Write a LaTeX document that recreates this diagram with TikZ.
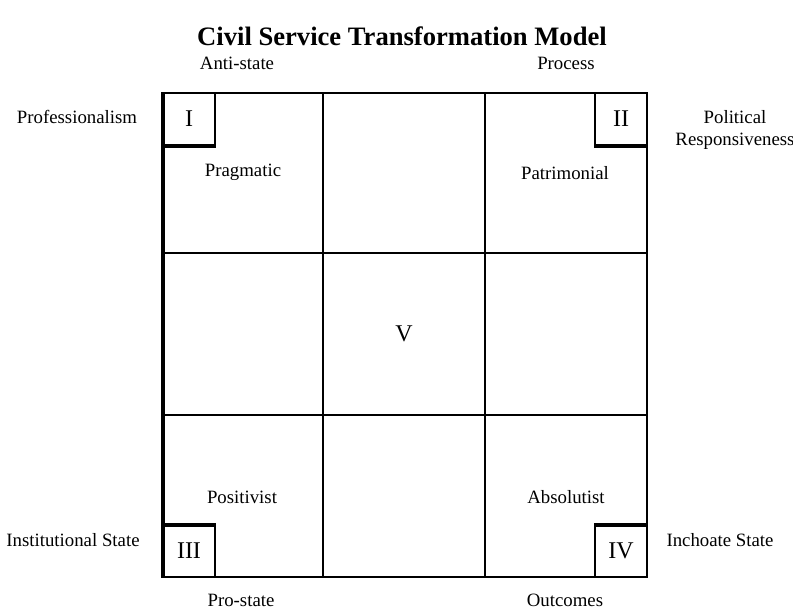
\documentclass[tikz,border=0pt]{standalone}
\usepackage{fontspec}
\setmainfont{Liberation Serif}
\usepackage{tikz}

\begin{document}
\begin{tikzpicture}[x=.5pt,y=-.5pt]
    \useasboundingbox (0,0) rectangle (793,612);
    \tikzset{lab/.style={font=\fontsize{9.4}{11}\selectfont,align=center},
      num/.style={font=\fontsize{12}{14}\selectfont}}
    % grid
    \path (163,93) coordinate (tl); \path (647,577) coordinate (br);
    \draw[line width=1pt] (tl) rectangle (br);
    \draw[line width=1pt] (323,93) -- (323,577) (485,93) -- (485,577);
    \draw[line width=1pt] (163,253) -- (647,253) (163,415) -- (647,415);
    \draw[line width=1.7pt] (163,92) -- (163,578);
    % corner boxes
    \draw[line width=1pt] (215,93) -- (215,146);
    \draw[line width=1.8pt] (163,146) -- (216,146);
    \draw[line width=1pt] (595,93) -- (595,146);
    \draw[line width=1.8pt] (594,146) -- (648,146);
    \draw[line width=1pt] (215,525) -- (215,577);
    \draw[line width=1.8pt] (163,525) -- (216,525);
    \draw[line width=1pt] (595,525) -- (595,577);
    \draw[line width=1.8pt] (594,525) -- (648,525);
    \node[num] (one) at (189,119) {I};
    \node[num] (two) at (621,119) {II};
    \node[num] (three) at (189,551) {III};
    \node[num] (four) at (621,551) {IV};
    \node[num] (five) at (404,334) {V};
    % labels
    \node[font=\fontsize{13.3}{16}\selectfont\bfseries] (title) at (402,36)
      {Civil Service Transformation Model};
    \node[lab] (anti) at (237,63) {Anti-state};
    \node[lab] (proc) at (566,63) {Process};
    \node[lab] (prof) at (77,117) {Professionalism};
    \node[lab] (polit) at (735,130) {Political\\Responsiveness};
    \node[lab] (prag) at (243,172) {Pragmatic};
    \node[lab] (patr) at (565,173) {Patrimonial};
    \node[lab] (posit) at (242,497) {Positivist};
    \node[lab] (absol) at (566,497) {Absolutist};
    \node[lab] (inst) at (73,540) {Institutional State};
    \node[lab] (inch) at (720,540) {Inchoate State};
    \node[lab] (pro) at (241,600) {Pro-state};
    \node[lab] (outc) at (565,600) {Outcomes};
  \end{tikzpicture}
\end{document}
